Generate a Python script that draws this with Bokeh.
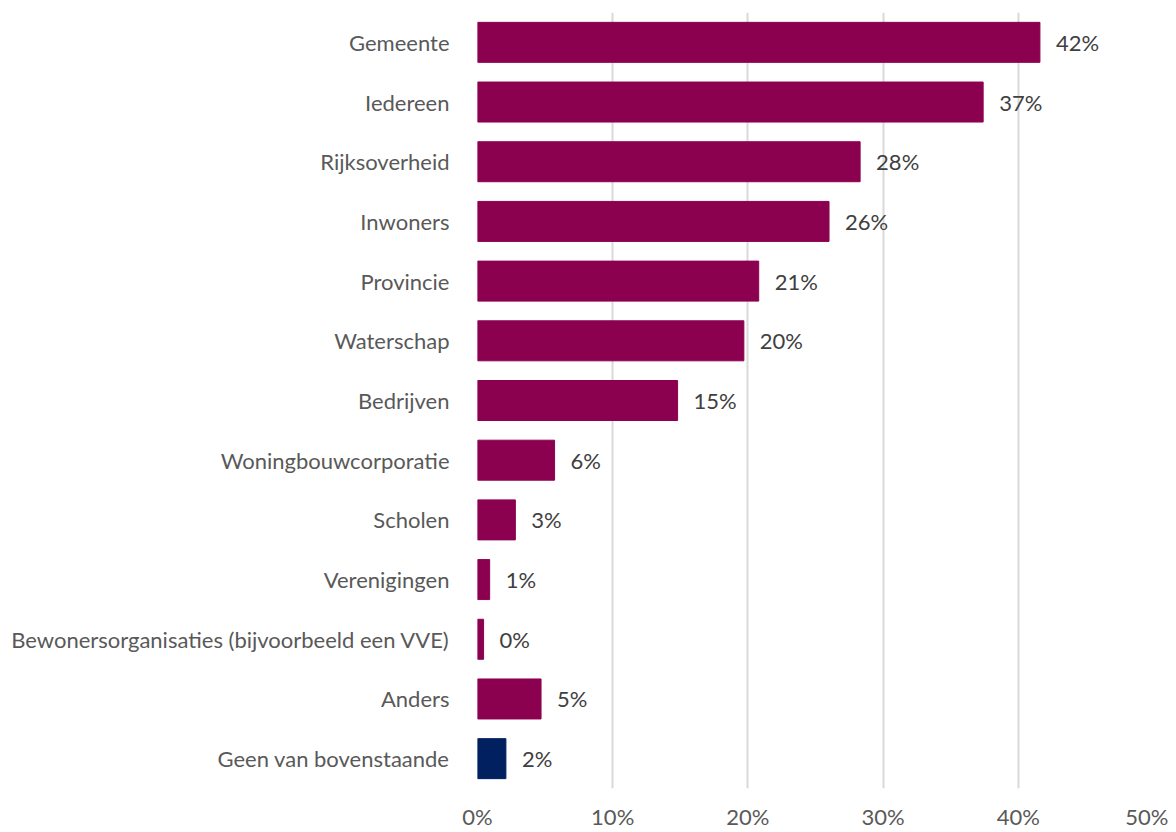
from bokeh.plotting import figure
from bokeh.models import ColumnDataSource, LabelSet, FixedTicker, CustomJSTickFormatter
from bokeh.core.properties import value
from bokeh.embed import file_html
from bokeh.resources import INLINE

categories = ["Gemeente", "Iedereen", "Rijksoverheid", "Inwoners", "Provincie", "Waterschap",
              "Bedrijven", "Woningbouwcorporatie", "Scholen", "Verenigingen",
              "Bewonersorganisaties (bijvoorbeeld een VVE)", "Anders", "Geen van bovenstaande"]
values = [41.6, 37.4, 28.3, 26.0, 20.8, 19.7, 14.8, 5.7, 2.8, 0.9, 0.45, 4.7, 2.1]
labels = ["42%", "37%", "28%", "26%", "21%", "20%", "15%", "6%", "3%", "1%", "0%", "5%", "2%"]
colors = ["#8C0050"] * 12 + ["#002060"]
ticks = [0, 10, 20, 30, 40, 50]

FONT = "Lato"
FS = "22px"

src = ColumnDataSource(dict(cat=categories, val=values, lab=labels, col=colors))

p = figure(width=1168, height=832, y_range=list(reversed(categories)), x_range=(0, 50),
           output_backend="svg", toolbar_location=None,
           min_border_left=477, min_border_right=15, min_border_top=12, min_border_bottom=44)
p.hbar(y="cat", right="val", left=0, height=0.67, color="col", source=src)

p.add_layout(LabelSet(x="val", y="cat", text="lab", source=src, x_offset=16, y_offset=0,
                      text_baseline="middle", text_font=value(FONT), text_font_size=FS,
                      text_color="#404040"))

p.outline_line_color = None
p.ygrid.grid_line_color = None
p.xgrid.grid_line_color = "#D9D9D9"
p.xgrid.grid_line_width = 2
p.xaxis.ticker = FixedTicker(ticks=ticks)
p.xaxis.formatter = CustomJSTickFormatter(code="return tick + '%';")
for ax in (p.xaxis, p.yaxis):
    ax.axis_line_color = None
    ax.major_tick_line_color = None
    ax.minor_tick_line_color = None
    ax.major_label_text_font = FONT
    ax.major_label_text_font_size = FS
    ax.major_label_text_color = "#595959"
p.xaxis.major_label_standoff = 8
p.yaxis.major_label_standoff = 22

open("out.html", "w").write(file_html(p, INLINE))
